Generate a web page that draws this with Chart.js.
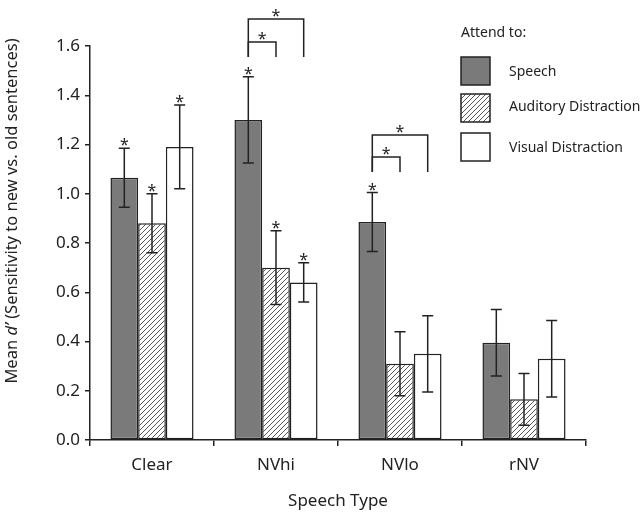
<!DOCTYPE html>
<html>
<head>
<meta charset="utf-8">
<script src="https://cdn.jsdelivr.net/npm/chart.js@4"></script>
<style>
  body { margin: 0; background: #fff; }
  #wrap { width: 643px; height: 515px; }
</style>
</head>
<body>
<div id="wrap"><canvas id="chart"></canvas></div>
<script>
// data
const categories = ['Clear', 'NVhi', 'NVlo', 'rNV'];
const seriesNames = ['Speech', 'Auditory Distraction', 'Visual Distraction'];
const speech = [1.065, 1.30, 0.885, 0.395];
const auditory = [0.88, 0.70, 0.31, 0.165];
const visual = [1.19, 0.64, 0.35, 0.33];
const speechErr = [0.12, 0.175, 0.12, 0.135];
const auditoryErr = [0.12, 0.15, 0.13, 0.105];
const visualErr = [0.17, 0.08, 0.155, 0.155];
// asterisk over the error bar (1 = significant)
const speechStar = [1, 1, 1, 0];
const auditoryStar = [1, 1, 0, 0];
const visualStar = [1, 1, 0, 0];
// comparison brackets: category, from series, to series, foot and top (in d' units)
const bracketCat = [1, 1, 2, 2];
const bracketFrom = [0, 0, 0, 0];
const bracketTo = [1, 2, 1, 2];
const bracketBase = [1.555, 1.555, 1.088, 1.088];
const bracketTop = [1.616, 1.71, 1.149, 1.239];
const yTicks = [0, 0.2, 0.4, 0.6, 0.8, 1.0, 1.2, 1.4, 1.6];

const FONT = '"Noto Sans", "DejaVu Sans", sans-serif';
const INK = '#222';

// diagonal hatch
function makeHatch() {
    const c = document.createElement('canvas');
    c.width = 5; c.height = 5;
    const g = c.getContext('2d');
    g.fillStyle = '#fff';
    g.fillRect(0, 0, 5, 5);
    g.strokeStyle = '#444';
    g.lineWidth = 0.9;
    g.beginPath();
    g.moveTo(-1, 1); g.lineTo(1, -1);
    g.moveTo(0, 5); g.lineTo(5, 0);
    g.moveTo(4, 6); g.lineTo(6, 4);
    g.stroke();
    return g.createPattern(c, 'repeat');
}
const hatch = makeHatch();

const errs = [speechErr, auditoryErr, visualErr];
const stars = [speechStar, auditoryStar, visualStar];
const fills = ['#7a7a7a', hatch, '#ffffff'];

function star(ctx, x, yTop) {
    ctx.save();
    ctx.font = '16px ' + FONT;
    ctx.fillStyle = INK;
    ctx.textAlign = 'center';
    ctx.textBaseline = 'alphabetic';
    ctx.fillText('*', x, yTop + 3);
    ctx.restore();
}

const extras = {
    id: 'extras',
    afterDatasetsDraw(chart) {
        const ctx = chart.ctx;
        const y = chart.scales.y;
        ctx.save();
        ctx.strokeStyle = INK;
        ctx.lineWidth = 1.5;
        // error bars + asterisks
        chart.data.datasets.forEach((ds, d) => {
            const meta = chart.getDatasetMeta(d);
            meta.data.forEach((bar, i) => {
                const v = ds.data[i];
                const hi = y.getPixelForValue(v + errs[d][i]);
                const lo = y.getPixelForValue(v - errs[d][i]);
                ctx.beginPath();
                ctx.moveTo(bar.x, hi); ctx.lineTo(bar.x, lo);
                ctx.moveTo(bar.x - 5.5, hi); ctx.lineTo(bar.x + 5.5, hi);
                ctx.moveTo(bar.x - 5.5, lo); ctx.lineTo(bar.x + 5.5, lo);
                ctx.stroke();
                if (stars[d][i]) star(ctx, bar.x, hi - 1);
            });
        });
        // brackets
        for (let k = 0; k < bracketCat.length; k++) {
            const x1 = chart.getDatasetMeta(bracketFrom[k]).data[bracketCat[k]].x;
            const x2 = chart.getDatasetMeta(bracketTo[k]).data[bracketCat[k]].x;
            const yb = y.getPixelForValue(bracketBase[k]);
            const yt = y.getPixelForValue(bracketTop[k]);
            ctx.beginPath();
            ctx.moveTo(x1, yb); ctx.lineTo(x1, yt); ctx.lineTo(x2, yt); ctx.lineTo(x2, yb);
            ctx.stroke();
            star(ctx, (x1 + x2) / 2, yt - 1);
        }
        ctx.restore();
    },
    afterDraw(chart) {
        const ctx = chart.ctx;
        ctx.save();
        // y axis title with italic d'
        ctx.translate(12, 211);
        ctx.rotate(-Math.PI / 2);
        ctx.fillStyle = INK;
        ctx.textBaseline = 'middle';
        const parts = [['Mean ', ''], ['d\u2019', 'italic '], [' (Sensitivity to new vs. old sentences)', '']];
        let total = 0;
        parts.forEach(p => { ctx.font = p[1] + '16.5px ' + FONT; total += ctx.measureText(p[0]).width; });
        let x = -total / 2;
        parts.forEach(p => {
            ctx.font = p[1] + '16.5px ' + FONT;
            ctx.fillText(p[0], x, 0);
            x += ctx.measureText(p[0]).width;
        });
        ctx.restore();

        // legend
        ctx.save();
        ctx.font = '14px ' + FONT;
        ctx.fillStyle = INK;
        ctx.textBaseline = 'middle';
        ctx.fillText('Attend to:', 461, 33);
        const boxY = [57, 94, 133];
        const textY = [72, 107, 148];
        seriesNames.forEach((name, d) => {
            ctx.fillStyle = fills[d];
            ctx.fillRect(461, boxY[d], 29, 28);
            ctx.strokeStyle = INK;
            ctx.lineWidth = 1.5;
            ctx.strokeRect(461, boxY[d], 29, 28);
            ctx.fillStyle = INK;
            ctx.fillText(name, 509, textY[d]);
        });
        ctx.restore();
    }
};

const ds = [speech, auditory, visual].map((vals, d) => ({
    label: seriesNames[d],
    data: vals,
    backgroundColor: fills[d],
    borderColor: INK,
    borderWidth: 1.5,
    borderSkipped: false,
    categoryPercentage: 0.67,
    barPercentage: 1.0
}));

new Chart(document.getElementById('chart'), {
    type: 'bar',
    data: { labels: categories, datasets: ds },
    options: {
        responsive: true,
        maintainAspectRatio: false,
        animation: false,
        layout: { padding: { top: 46, right: 57, left: 0, bottom: 0 } },
        plugins: { legend: { display: false }, tooltip: { enabled: false } },
        scales: {
            x: {
                afterFit(s) { s.height = 75; },
                grid: { drawOnChartArea: false, offset: true, tickLength: 6, color: INK, lineWidth: 1.5 },
                border: { color: INK, width: 1.5 },
                ticks: { color: INK, padding: 9, font: { family: FONT, size: 17 } },
                title: { display: true, text: 'Speech Type', color: INK, padding: { top: 0, bottom: 4 }, font: { family: FONT, size: 17 } }
            },
            y: {
                min: 0,
                max: 1.6,
                afterFit(s) { s.width = 90; },
                afterBuildTicks(s) { s.ticks = yTicks.map(v => ({ value: v })); },
                grid: { drawOnChartArea: false, tickLength: 5, color: INK, lineWidth: 1.5 },
                border: { color: INK, width: 1.5 },
                ticks: { color: INK, padding: 5, font: { family: FONT, size: 17 }, callback: v => v.toFixed(1) }
            }
        }
    },
    plugins: [extras]
});
</script>
</body>
</html>
